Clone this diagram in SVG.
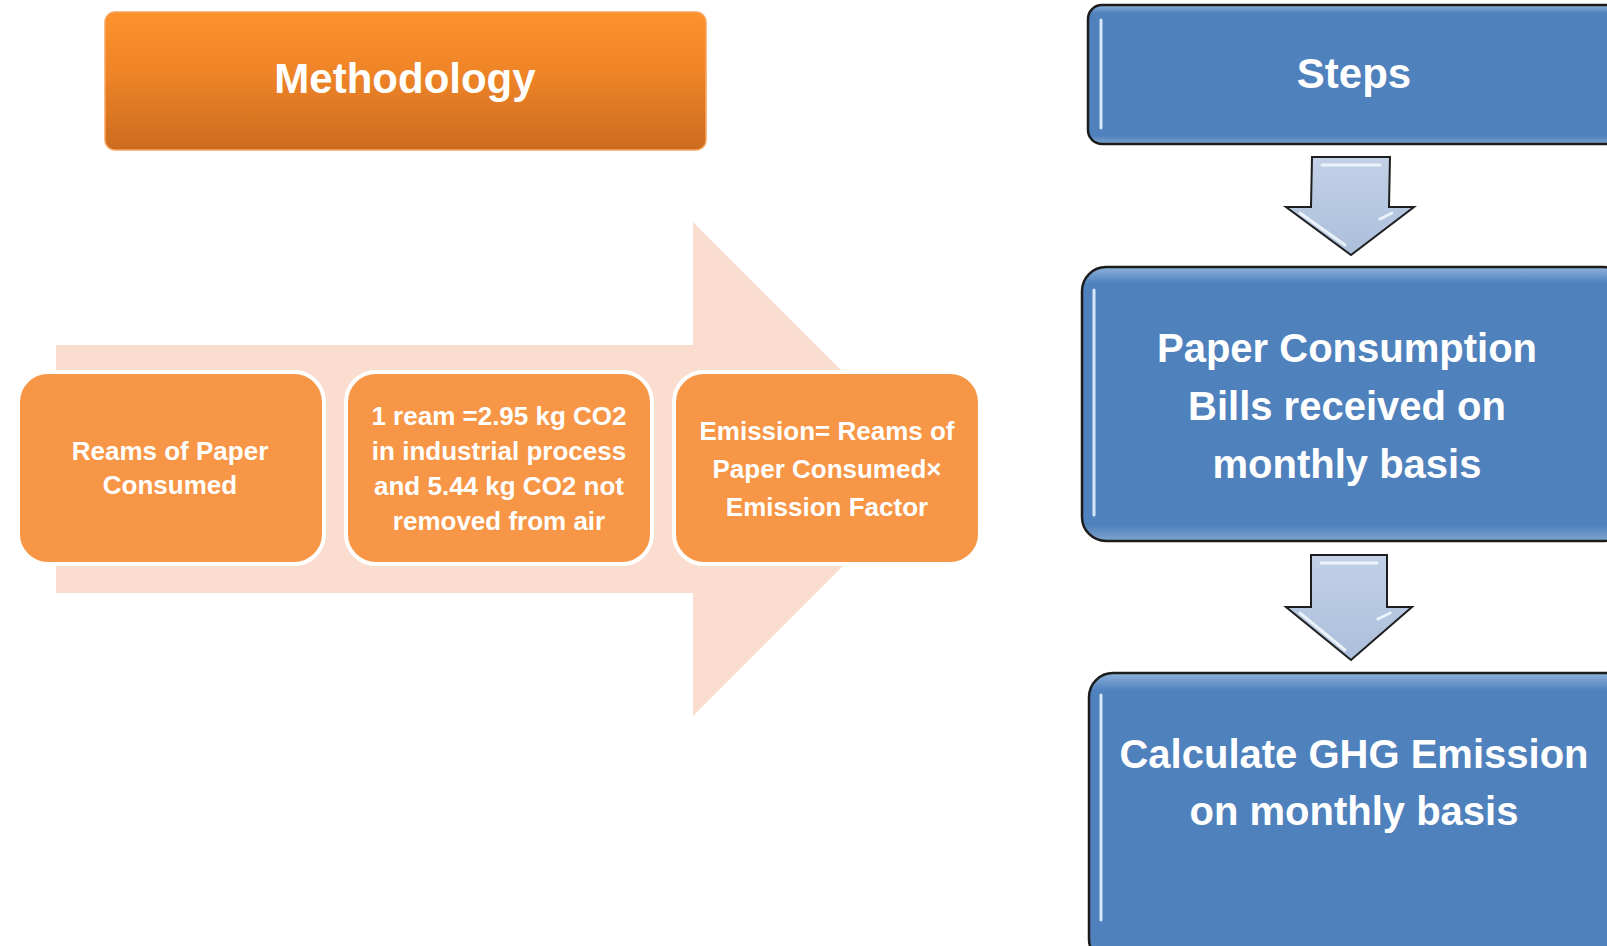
<svg xmlns="http://www.w3.org/2000/svg" width="1607" height="946" viewBox="0 0 1607 946">
  <defs>
    <linearGradient id="gOrange" x1="0" y1="0" x2="0" y2="1">
      <stop offset="0" stop-color="#FD922D"/>
      <stop offset="0.45" stop-color="#EE8427"/>
      <stop offset="1" stop-color="#CC6B1F"/>
    </linearGradient>
    <linearGradient id="gBlueEdge" x1="0" y1="0" x2="0" y2="1">
      <stop offset="0" stop-color="#8FB1DA"/>
      <stop offset="0.06" stop-color="#4F81BD"/>
      <stop offset="0.94" stop-color="#4F81BD"/>
      <stop offset="1" stop-color="#7FA3CF"/>
    </linearGradient>
    <linearGradient id="gArrow" x1="0" y1="0" x2="0" y2="1">
      <stop offset="0" stop-color="#C3D1E7"/>
      <stop offset="1" stop-color="#ABBEDB"/>
    </linearGradient>
    <style>
      .step { fill: url(#gBlueEdge); stroke: #1C1C1C; stroke-width: 2.5; }
      .hl { stroke: #D6E8FA; stroke-width: 3; stroke-linecap: round; fill: none; }
      .obox { fill: #F79646; stroke: #FFFFFF; stroke-width: 4; }
      .down { fill: url(#gArrow); stroke: #1E1E1E; stroke-width: 2; stroke-linejoin: miter; }
      .bevel { stroke: #F2F6FC; stroke-width: 3; stroke-linecap: round; fill: none; opacity: 0.9; }
      .t { font-family: "Liberation Sans", Arial, sans-serif; font-weight: bold; fill: #FFFFFF; text-anchor: middle; }
      .small { font-size: 26px; }
      .big { font-size: 40px; }
      .title { font-size: 42px; }
    </style>
  </defs>

  <rect width="1607" height="946" fill="#FFFFFF"/>

  <!-- background process arrow -->
  <g id="process-arrow">
    <polygon points="56,345 693,345 693,222 940,469 693,716 693,593 56,593" fill="#FBDDD0"/>
  </g>

  <!-- Methodology header -->
  <g id="methodology">
    <rect x="105" y="12" width="601" height="138" rx="10" fill="url(#gOrange)" stroke="#F7A45E" stroke-width="1.5"/>
    <text class="t title" x="405" y="93">Methodology</text>
  </g>

  <!-- orange step boxes -->
  <g id="reams">
    <rect class="obox" x="18" y="372" width="306" height="192" rx="30"/>
    <text class="t small" x="170" y="460">Reams of Paper</text>
    <text class="t small" x="170" y="494">Consumed</text>
  </g>
  <g id="factor">
    <rect class="obox" x="346" y="372" width="306" height="192" rx="30"/>
    <text class="t small" x="499" y="425">1 ream =2.95 kg CO2</text>
    <text class="t small" x="499" y="460">in industrial process</text>
    <text class="t small" x="499" y="495">and 5.44 kg CO2 not</text>
    <text class="t small" x="499" y="530">removed from air</text>
  </g>
  <g id="formula">
    <rect class="obox" x="674" y="372" width="306" height="192" rx="30"/>
    <text class="t small" x="827" y="440">Emission= Reams of</text>
    <text class="t small" x="827" y="478">Paper Consumed×</text>
    <text class="t small" x="827" y="516">Emission Factor</text>
  </g>

  <!-- blue steps -->
  <g id="steps">
    <rect class="step" x="1088" y="5" width="540" height="139" rx="14"/>
    <line class="hl" x1="1101" y1="20" x2="1101" y2="128"/>
    <text class="t title" x="1354" y="88">Steps</text>
  </g>
  <g id="bills">
    <rect class="step" x="1082" y="267" width="545" height="274" rx="24"/>
    <line class="hl" x1="1094" y1="290" x2="1094" y2="515"/>
    <text class="t big" x="1347" y="362">Paper Consumption</text>
    <text class="t big" x="1347" y="420">Bills received on</text>
    <text class="t big" x="1347" y="478">monthly basis</text>
  </g>
  <g id="calculate">
    <rect class="step" x="1089" y="673" width="540" height="290" rx="24"/>
    <line class="hl" x1="1101" y1="695" x2="1101" y2="920"/>
    <text class="t big" x="1354" y="768">Calculate GHG Emission</text>
    <text class="t big" x="1354" y="825">on monthly basis</text>
  </g>

  <!-- connectors -->
  <g id="connectors">
    <g id="arrow-steps-bills">
      <polygon class="down" points="1312,157 1390,157 1389,207 1414,207 1351,255 1286,207 1311,207"/>
      <line class="bevel" x1="1322" y1="165" x2="1380" y2="165"/>
      <line class="bevel" x1="1300" y1="213" x2="1345" y2="245"/>
      <line class="bevel" x1="1380" y1="219" x2="1392" y2="213"/>
    </g>
    <g id="arrow-bills-calculate">
      <polygon class="down" points="1311,555 1387,555 1387,607 1412,607 1351,660 1286,607 1311,607"/>
      <line class="bevel" x1="1321" y1="563" x2="1377" y2="563"/>
      <line class="bevel" x1="1300" y1="613" x2="1345" y2="650"/>
      <line class="bevel" x1="1378" y1="619" x2="1390" y2="613"/>
    </g>
  </g>
</svg>
